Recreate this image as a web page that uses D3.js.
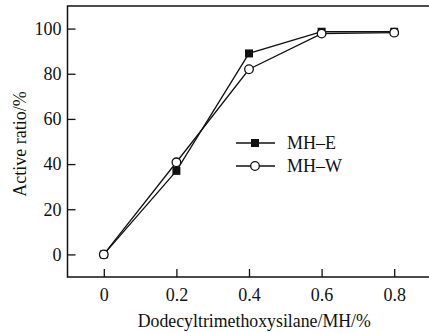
<!DOCTYPE html>
<html>
<head>
<meta charset="utf-8">
<script src="https://cdn.jsdelivr.net/npm/d3@7"></script>
<style>
  body { margin: 0; background: #fff; }
  svg { display: block; font-family: "Liberation Serif", "Times New Roman", serif; }
</style>
</head>
<body>
<div id="chart"></div>
<script>
// data
var xValues = [0, 0.2, 0.4, 0.6, 0.8];
var mhE = [0, 37, 89, 98.6, 98.6];
var mhW = [0, 40.8, 82, 97.8, 98.2];
var xTicks = [0, 0.2, 0.4, 0.6, 0.8];
var yTicks = [0, 20, 40, 60, 80, 100];

var width = 429, height = 333;
var plot = {left: 67.5, top: 6, right: 430.5, bottom: 277};

var svg = d3.select('#chart').append('svg')
  .attr('width', width)
  .attr('height', height);

var x = d3.scaleLinear().domain([-0.1, 0.9]).range([plot.left, plot.right]);
var y = d3.scaleLinear().domain([-10, 110]).range([plot.bottom, plot.top]);

/* frame */
svg.append('rect')
  .attr('x', plot.left).attr('y', plot.top)
  .attr('width', plot.right - plot.left).attr('height', plot.bottom - plot.top)
  .style('fill', 'none').style('stroke', '#111').style('stroke-width', 1.5);

/* axes with inward ticks */
var xAxis = svg.append('g')
  .attr('transform', 'translate(0,' + plot.bottom + ')')
  .call(d3.axisBottom(x).tickValues(xTicks).tickSizeInner(-8).tickSizeOuter(0).tickPadding(11)
    .tickFormat(function(d){ return d === 0 ? '0' : d3.format('.1f')(d); }));
xAxis.select('.domain').remove();

var yAxis = svg.append('g')
  .attr('transform', 'translate(' + plot.left + ',0)')
  .call(d3.axisLeft(y).tickValues(yTicks).tickSizeInner(-8).tickSizeOuter(0).tickPadding(6));
yAxis.select('.domain').remove();

svg.selectAll('.tick line').style('stroke', '#111').style('stroke-width', 1.3);
svg.selectAll('.tick text')
  .style('font-family', '"Liberation Serif", serif')
  .style('font-size', '18px')
  .style('fill', '#111');

/* axis titles */
svg.append('text')
  .attr('x', (plot.left + 429) / 2 + 6).attr('y', 327)
  .attr('text-anchor', 'middle')
  .style('font-size', '17.8px').style('fill', '#111')
  .text('Dodecyltrimethoxysilane/MH/%');

svg.append('text')
  .attr('transform', 'translate(26,' + 144 + ') rotate(-90)')
  .attr('text-anchor', 'middle')
  .style('font-size', '18px').style('fill', '#111')
  .text('Active ratio/%');

/* series lines */
var line = d3.line()
  .x(function(d, i){ return x(xValues[i]); })
  .y(function(d){ return y(d); });

svg.append('path').datum(mhE)
  .attr('d', line)
  .style('fill', 'none').style('stroke', '#111').style('stroke-width', 1.3);
svg.append('path').datum(mhW)
  .attr('d', line)
  .style('fill', 'none').style('stroke', '#111').style('stroke-width', 1.3);

/* markers */
svg.selectAll('.e-mark')
  .data(mhE).enter()
  .append('rect').attr('class', 'e-mark')
  .attr('x', function(d, i){ return x(xValues[i]) - 4; })
  .attr('y', function(d){ return y(d) - 4; })
  .attr('width', 8).attr('height', 8)
  .style('fill', '#111');

svg.selectAll('.w-mark')
  .data(mhW).enter()
  .append('circle').attr('class', 'w-mark')
  .attr('cx', function(d, i){ return x(xValues[i]); })
  .attr('cy', function(d){ return y(d); })
  .attr('r', 4.3)
  .style('fill', '#fff').style('stroke', '#111').style('stroke-width', 1.3);

/* legend */
var legend = svg.append('g');
var items = [{name: 'MH\u2013E', y: 143}, {name: 'MH\u2013W', y: 166}];
items.forEach(function(it, i){
  legend.append('line')
    .attr('x1', 236).attr('x2', 275)
    .attr('y1', it.y).attr('y2', it.y)
    .style('stroke', '#111').style('stroke-width', 1.3);
  if (i === 0) {
    legend.append('rect')
      .attr('x', 251).attr('y', it.y - 4).attr('width', 8).attr('height', 8)
      .style('fill', '#111');
  } else {
    legend.append('circle')
      .attr('cx', 255).attr('cy', it.y).attr('r', 4.3)
      .style('fill', '#fff').style('stroke', '#111').style('stroke-width', 1.3);
  }
  legend.append('text')
    .attr('x', 287).attr('y', it.y + 6)
    .style('font-size', '18px').style('fill', '#111')
    .text(it.name);
});
</script>
</body>
</html>
